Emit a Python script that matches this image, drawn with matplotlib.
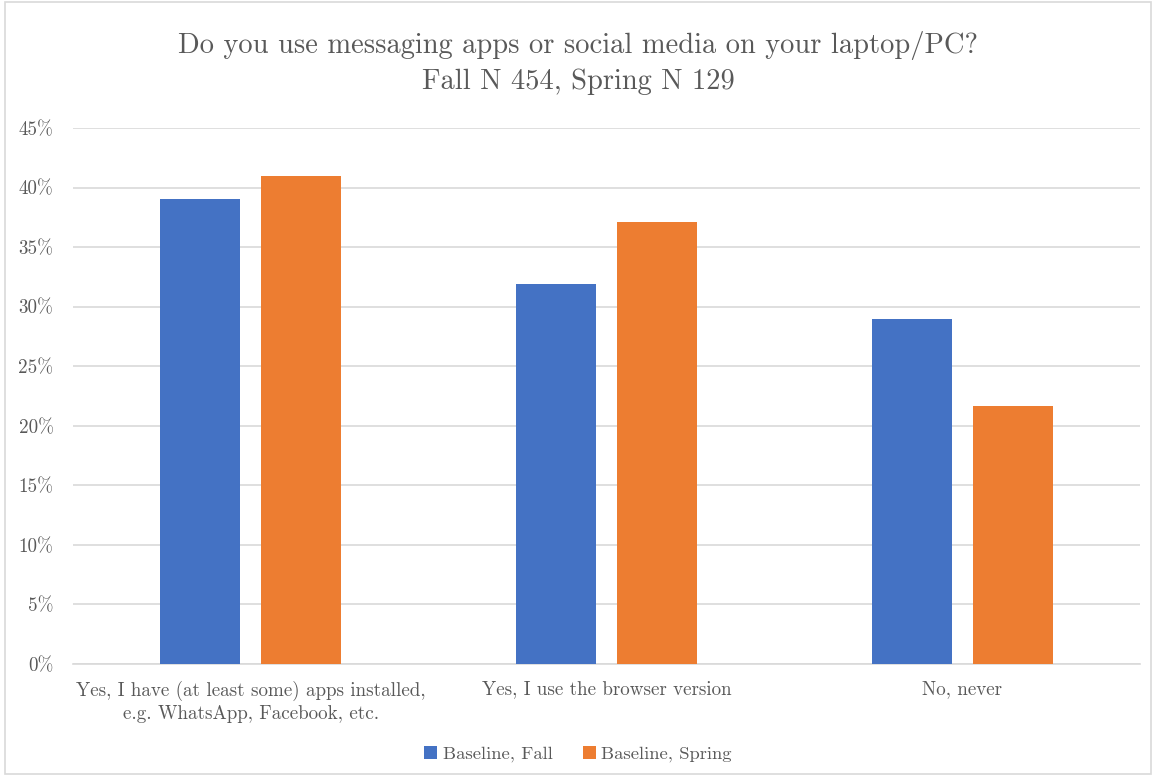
import numpy as np
import matplotlib
matplotlib.use("Agg")
import matplotlib.pyplot as plt
from matplotlib.patches import Rectangle
from matplotlib.ticker import FuncFormatter

plt.rcParams['font.family'] = ['cmr10', 'DejaVu Serif']
plt.rcParams['axes.unicode_minus'] = False

# Data
categories = ["Yes, I have (at least some) apps installed,\ne.g. WhatsApp, Facebook, etc.",
              "Yes, I use the browser version",
              "No, never"]
fall = [0.39, 0.319, 0.29]
spring = [0.41, 0.3715, 0.2165]
series_names = ["Baseline, Fall", "Baseline, Spring"]
colors = ["#4472C4", "#ED7D31"]
text_color = "#595959"

fig = plt.figure(figsize=(11.56, 7.76), dpi=100)
fig.patches.append(Rectangle((0.004, 0.002), 0.992, 0.996, transform=fig.transFigure,
                             fill=False, edgecolor="#D9D9D9", linewidth=1.2))

ax = fig.add_axes([73 / 1156, 112 / 776, (1140 - 73) / 1156, (664 - 128) / 776])
x = np.arange(len(categories))
width = 0.225
offset = 0.142
ax.bar(x - offset, fall, width, color=colors[0], label=series_names[0], zorder=3)
ax.bar(x + offset, spring, width, color=colors[1], label=series_names[1], zorder=3)

ax.set_xlim(-0.5, len(categories) - 0.5)
ax.set_ylim(0, 0.45)
ax.set_yticks(np.arange(0, 0.451, 0.05))
ax.yaxis.set_major_formatter(FuncFormatter(lambda v, p: "{:.0f}%".format(v * 100)))
ax.set_xticks(x)
ax.set_xticklabels(categories, fontsize=13.7, color=text_color, linespacing=1.3)
ax.tick_params(axis='y', labelsize=13.7, labelcolor=text_color, length=0, pad=14)
ax.tick_params(axis='x', length=0, pad=12)
ax.grid(axis='y', color="#D9D9D9", linewidth=1.2, zorder=0)
for s in ['top', 'right', 'left']:
    ax.spines[s].set_visible(False)
ax.spines['bottom'].set_color("#D9D9D9")
ax.spines['bottom'].set_linewidth(1.2)

fig.text(0.5, 1 - 63 / 776, "Do you use messaging apps or social media on your laptop/PC?\nFall N 454, Spring N 129",
         ha='center', va='center', fontsize=20.5, color=text_color, linespacing=1.42)

fig.legend(loc='center', bbox_to_anchor=(0.5, 1 - 754 / 776), ncol=2, frameon=False,
           fontsize=13.4, labelcolor=text_color, handlelength=0.7, handleheight=0.7,
           handletextpad=0.3, columnspacing=1.6)

fig.savefig("out.png", dpi=100, facecolor="white")
